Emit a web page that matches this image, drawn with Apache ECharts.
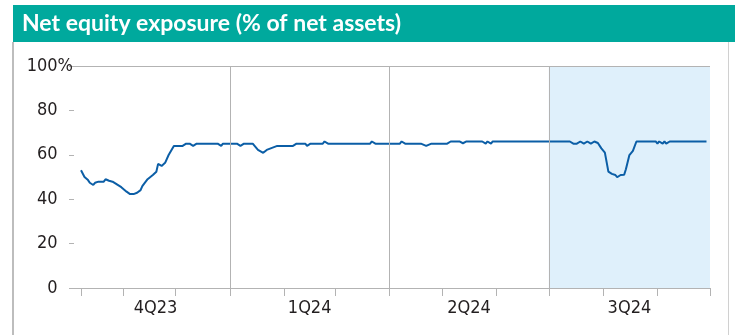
<!DOCTYPE html>
<html>
<head>
<meta charset="utf-8">
<script src="https://cdn.jsdelivr.net/npm/echarts@6/dist/echarts.min.js"></script>
<style>
  html, body { margin: 0; padding: 0; background: #ffffff; }
  #chart { width: 735px; height: 335px; }
</style>
</head>
<body>
<div id="chart"></div>
<script>
// Observation dates and net equity exposure (% of net assets)
const dates = [
  '2023-10-08','2023-10-10','2023-10-12','2023-10-13','2023-10-14','2023-10-15','2023-10-16',
  '2023-10-18','2023-10-19','2023-10-21','2023-10-22','2023-10-24','2023-10-26','2023-10-27',
  '2023-10-31','2023-11-03','2023-11-05','2023-11-06','2023-11-07','2023-11-09','2023-11-11',
  '2023-11-12','2023-11-15','2023-11-18','2023-11-20','2023-11-21','2023-11-23','2023-11-24',
  '2023-11-25','2023-11-27','2023-11-30','2023-12-05','2023-12-07','2023-12-09','2023-12-11',
  '2023-12-13','2023-12-25','2023-12-27','2023-12-28',
  '2024-01-05','2024-01-07','2024-01-09','2024-01-14','2024-01-17','2024-01-20','2024-01-22',
  '2024-01-28','2024-02-06','2024-02-08','2024-02-13','2024-02-14','2024-02-16','2024-02-23',
  '2024-02-24','2024-02-26','2024-03-21','2024-03-22','2024-03-24',
  '2024-04-07','2024-04-08','2024-04-10','2024-04-19','2024-04-22','2024-04-25','2024-05-04',
  '2024-05-06','2024-05-11','2024-05-13','2024-05-15','2024-05-24','2024-05-26','2024-05-27',
  '2024-05-29','2024-05-30',
  '2024-07-13','2024-07-15','2024-07-17','2024-07-19','2024-07-21','2024-07-23','2024-07-25',
  '2024-07-27','2024-07-29','2024-07-31','2024-08-02','2024-08-04','2024-08-06','2024-08-08',
  '2024-08-09','2024-08-11','2024-08-13','2024-08-14','2024-08-16','2024-08-18','2024-08-20',
  '2024-08-31','2024-09-01','2024-09-02','2024-09-04','2024-09-05','2024-09-06','2024-09-08',
  '2024-09-29'
];
const exposure = [
  53, 50, 48.6, 47.4, 47.9, 46.4, 47.4,
  47.9, 48.6, 47.9, 49, 48.3, 47.9, 47.4,
  45.4, 43.4, 42.3, 42.9, 42.3, 42.9, 44.1,
  45.9, 49, 50.9, 52.4, 55.9, 55, 55,
  56.4, 59.9, 64, 64, 65, 65, 64,
  65, 65, 64, 65,
  65, 64, 65, 65, 62.2, 60.9, 62.2,
  64, 64, 65, 65, 64, 65, 65,
  66, 65, 65, 66, 65,
  65, 66, 65, 65, 64, 65, 65,
  66, 66, 65.2, 66, 66, 65, 66,
  65, 66,
  66, 65, 65, 66, 65, 66, 65,
  66, 65.3, 62.9, 61, 52.4, 51.4, 50.9,
  49.9, 50.9, 51, 53.5, 59.9, 61.8, 66,
  66, 65, 66, 65, 66, 65, 66,
  66
];

// Axis scaffolding
const axisStart = '2023-10-04';
const monthTicks = [
  '2023-10-08','2023-11-01','2023-12-01','2024-01-01','2024-02-01','2024-03-01','2024-04-01',
  '2024-05-01','2024-06-01','2024-07-01','2024-08-01','2024-09-01','2024-10-01'
];
const quarterBounds = ['2023-10-08','2024-01-01','2024-04-01','2024-07-01','2024-10-01'];
const quarterLabels = ['4Q23','1Q24','2Q24','3Q24'];
const yTicks = [0, 20, 40, 60, 80, 100];

// dates are plotted as day numbers on a plain value axis
const DAY = 86400000;
const ts = s => Date.parse(s + 'T00:00:00Z') / DAY;
const labelFont = "'Liberation Sans Narrow', 'DejaVu Sans Condensed', sans-serif";
const textColor = '#231f20';
const rule = '#b3b3b3';

const quarterMids = quarterLabels.map((_, i) => (ts(quarterBounds[i]) + ts(quarterBounds[i + 1])) / 2);

const chart = echarts.init(document.getElementById('chart'), null, { renderer: 'canvas' });

chart.setOption({
  animation: false,
  grid: { left: 74, right: 25, top: 66, bottom: 47, containLabel: false },
  xAxis: {
    type: 'value',
    min: ts(axisStart),
    max: ts(quarterBounds[quarterBounds.length - 1]),
    axisLine: { show: true, onZero: false, lineStyle: { color: rule, width: 1 } },
    axisTick: { show: true, length: 8, lineStyle: { color: rule }, customValues: monthTicks.map(ts) },
    axisLabel: {
      customValues: quarterMids,
      margin: 11,
      color: textColor,
      fontSize: 18,
      fontFamily: labelFont,
      formatter: v => {
        let best = 0;
        quarterMids.forEach((m, i) => { if (Math.abs(m - v) < Math.abs(quarterMids[best] - v)) best = i; });
        return quarterLabels[best];
      }
    },
    splitLine: { show: false }
  },
  yAxis: {
    type: 'value',
    min: yTicks[0],
    max: yTicks[yTicks.length - 1],
    interval: yTicks[1] - yTicks[0],
    axisLine: { show: false },
    axisTick: { show: true, length: 5, lineStyle: { color: rule } },
    splitLine: { show: false },
    axisLabel: {
      margin: 1,
      formatter: v => v === yTicks[yTicks.length - 1] ? '{n|' + v + '%}' : '{n|' + v + '}{h|%}',
      rich: {
        n: { fontSize: 18, fontFamily: labelFont, color: textColor },
        h: { fontSize: 18, fontFamily: labelFont, color: 'rgba(0,0,0,0)' }
      }
    }
  },
  series: [{
    type: 'line',
    data: dates.map((d, i) => [ts(d), exposure[i]]),
    symbol: 'none',
    showSymbol: false,
    lineStyle: { color: '#0b5ea6', width: 2 },
    markArea: {
      silent: true,
      itemStyle: { color: '#dff0fb' },
      data: [[{ xAxis: ts(quarterBounds[3]) }, { xAxis: ts(quarterBounds[4]) }]]
    },
    markLine: {
      silent: true,
      symbol: ['none', 'none'],
      label: { show: false },
      lineStyle: { color: rule, width: 1, type: 'solid' },
      data: quarterBounds.slice(1, 4).map(b => ({ xAxis: ts(b) })).concat([{ yAxis: yTicks[yTicks.length - 1] }])
    }
  }],
  graphic: [
    { type: 'rect', shape: { x: 13, y: 5, width: 722, height: 37 }, style: { fill: '#00a99d' } },
    {
      type: 'text', x: 22, y: 24,
      style: { text: 'Net equity exposure (% of net assets)', fill: '#ffffff', font: 'bold 23px Lato', align: 'left', verticalAlign: 'middle' }
    },
    { type: 'line', shape: { x1: 13, y1: 42, x2: 13, y2: 335 }, style: { stroke: '#bdbdbd', lineWidth: 2 } },
    { type: 'line', shape: { x1: 728.5, y1: 42, x2: 728.5, y2: 335 }, style: { stroke: '#d0d0d0', lineWidth: 1 } }
  ]
});
</script>
</body>
</html>
